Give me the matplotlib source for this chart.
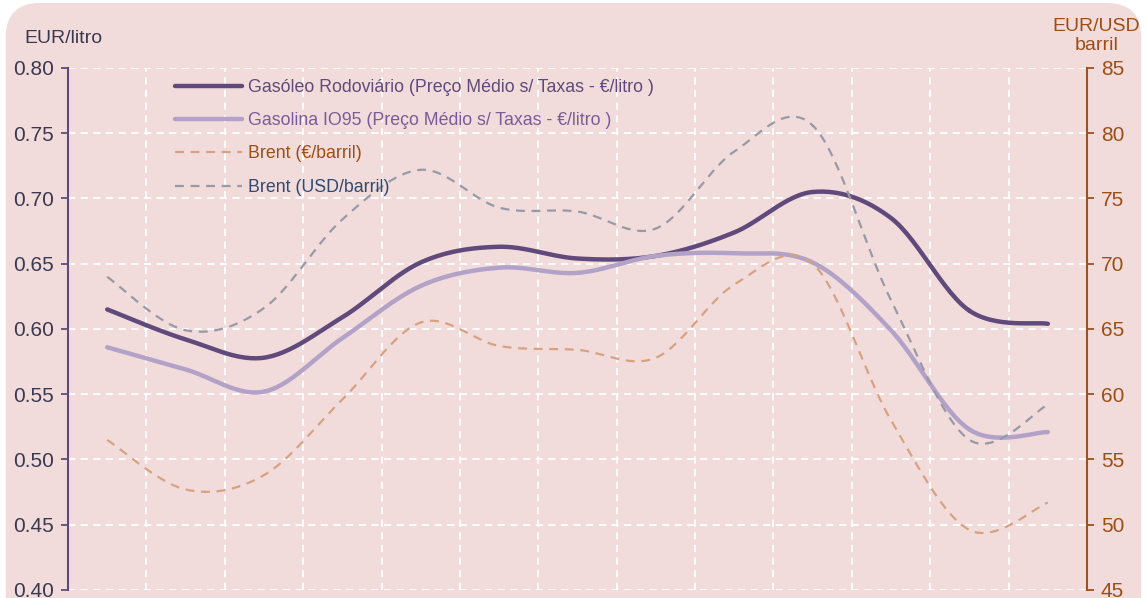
import numpy as np
import matplotlib.pyplot as plt
from matplotlib.patches import FancyBboxPatch

plt.rcParams['font.family'] = ['Liberation Sans', 'DejaVu Sans']

# monthly values (13 periods)
gasoleo = [0.615, 0.592, 0.578, 0.609, 0.651, 0.663, 0.654, 0.656, 0.674, 0.705, 0.685, 0.614, 0.604]
gasolina = [0.586, 0.569, 0.552, 0.593, 0.633, 0.647, 0.643, 0.656, 0.658, 0.651, 0.599, 0.523, 0.521]
brent_eur = [56.5, 52.7, 53.8, 59.6, 65.5, 63.7, 63.4, 62.8, 68.4, 70.0, 58.0, 49.6, 51.7]
brent_usd = [69.0, 64.9, 66.6, 73.4, 77.2, 74.3, 74.0, 72.7, 78.6, 80.6, 67.2, 56.5, 59.2]

labels = ["Gasóleo Rodoviário (Preço Médio s/ Taxas - €/litro )",
          "Gasolina IO95 (Preço Médio s/ Taxas - €/litro )",
          "Brent (€/barril)",
          "Brent (USD/barril)"]


def smooth(y, n=30):
    # Catmull-Rom curve, like the smoothed lines in a spreadsheet chart
    y = np.asarray(y, float)
    x = np.arange(len(y), dtype=float)
    px = np.concatenate([[x[0]], x, [x[-1]]])
    py = np.concatenate([[y[0]], y, [y[-1]]])
    t = np.linspace(0, 1, n)[:, None]
    xs, ys = [], []
    for i in range(1, len(px) - 2):
        for p, out in ((px, xs), (py, ys)):
            p0, p1, p2, p3 = p[i - 1], p[i], p[i + 1], p[i + 2]
            c = 0.5 * ((2 * p1) + (-p0 + p2) * t + (2 * p0 - 5 * p1 + 4 * p2 - p3) * t ** 2
                       + (-p0 + 3 * p1 - 3 * p2 + p3) * t ** 3)
            out.append(c.ravel())
    return np.concatenate(xs), np.concatenate(ys)


bg = '#F2DCDB'
fig = plt.figure(figsize=(11.47, 5.98), dpi=100, facecolor='white')
fig.patches.append(FancyBboxPatch((0.005, -0.05), 0.99, 1.045,
                                  boxstyle='round,pad=0,rounding_size=0.03',
                                  transform=fig.transFigure, facecolor=bg,
                                  edgecolor='none', zorder=-10, mutation_aspect=1147 / 598))
ax = fig.add_axes([0.0593, 0.0134, 0.8884, 0.8729])
ax.set_facecolor('none')
ax2 = ax.twinx()

n = len(gasoleo)
ax.set_xlim(-0.5, n - 0.5)
ax.set_ylim(0.40, 0.80)
ax2.set_ylim(45, 85)
ax.set_yticks(np.arange(0.40, 0.801, 0.05))
ax2.set_yticks(np.arange(45, 86, 5))
ax.set_yticklabels([f"{v:.2f}" for v in np.arange(0.40, 0.801, 0.05)])

# grid
grid_kw = dict(color='white', lw=1.3, ls=(0, (4, 3)), zorder=0)
for v in np.arange(0.40, 0.801, 0.05):
    ax.axhline(v, **grid_kw)
for b in np.arange(0.5, n - 1, 1.0):
    ax.axvline(b, **grid_kw)

l1, = ax.plot(*smooth(gasoleo), color='#604A7B', lw=3.2, solid_capstyle='round', label=labels[0])
l2, = ax.plot(*smooth(gasolina), color='#B3A2C7', lw=3.2, solid_capstyle='round', label=labels[1])
l3, = ax2.plot(*smooth(brent_eur), color='#D6A281', lw=1.6, ls=(0, (4, 3)), label=labels[2])
l4, = ax2.plot(*smooth(brent_usd), color='#979AA6', lw=1.6, ls=(0, (4, 3)), label=labels[3])

for a in (ax, ax2):
    a.set_xticks([])
    for s in ('top', 'bottom'):
        a.spines[s].set_visible(False)
ax.spines['right'].set_visible(False)
ax2.spines['left'].set_visible(False)
ax.spines['left'].set_color('#604A7B')
ax.spines['left'].set_linewidth(1.5)
ax2.spines['right'].set_color('#A0521D')
ax2.spines['right'].set_linewidth(1.5)
ax.tick_params(axis='y', length=5, width=1.3, color='#604A7B', labelsize=15, labelcolor='#3B3950', pad=5)
ax2.tick_params(axis='y', length=5, width=1.3, color='#A0521D', labelsize=15, labelcolor='#9C4F14', pad=5)

fig.text(0.021, 0.936, "EUR/litro", fontsize=14, color='#3B3950', va='center')
fig.text(0.956, 0.94, "EUR/USD\nbarril", fontsize=14, color='#9C4F14', ha='center', va='center',
         linespacing=1.2)

leg = ax2.legend(handles=[l1, l2, l3, l4], loc='upper left', bbox_to_anchor=(0.089, 1.01),
                 frameon=False, fontsize=12.8, handlelength=3.8, handletextpad=0.35,
                 labelspacing=0.92, labelcolor=['#604A7B', '#7A5C99', '#9C4F14', '#2E4A70'])

fig.savefig('out.png', dpi=100, facecolor='white')
